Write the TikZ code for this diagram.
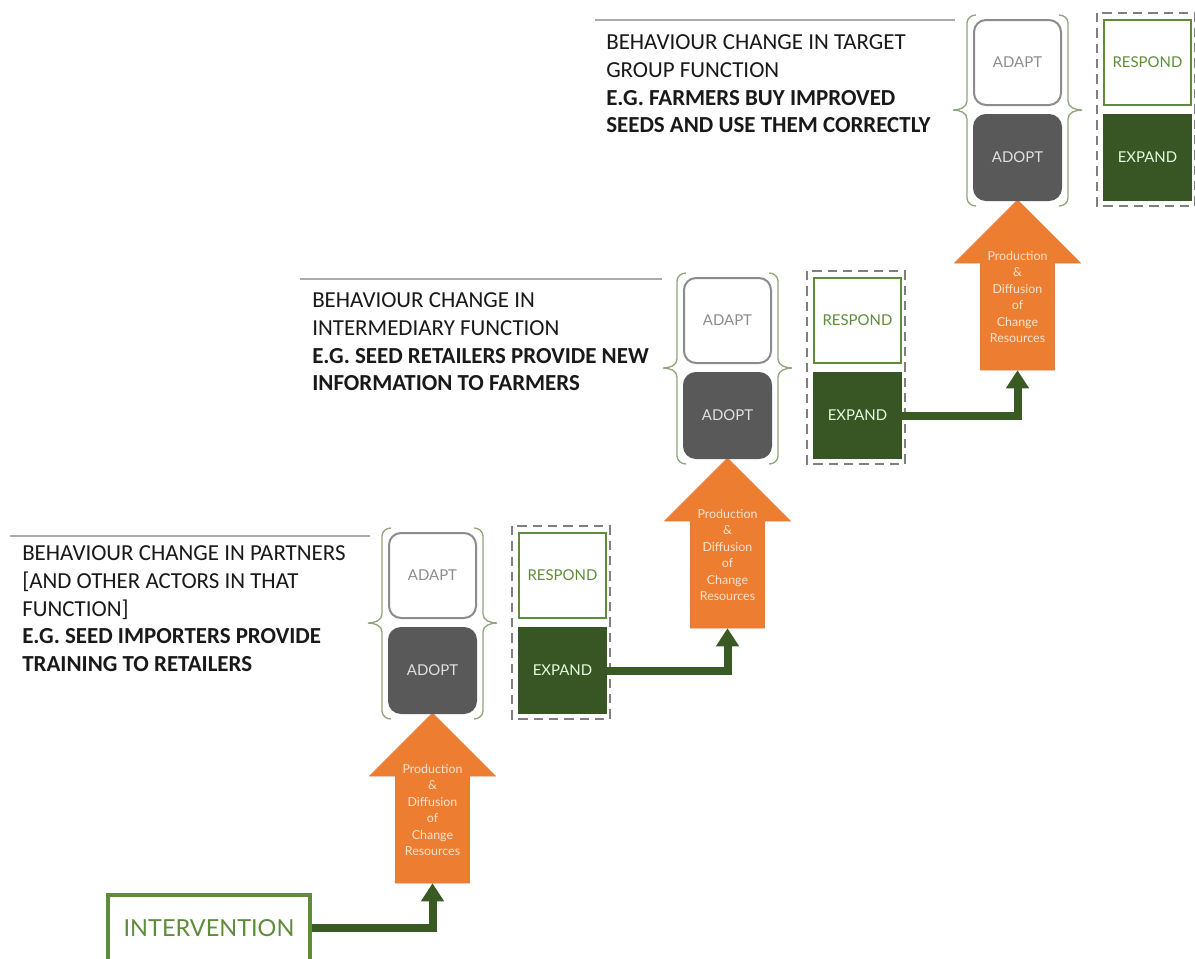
\documentclass[tikz,border=0pt]{standalone}
\usepackage{fontspec}
\setmainfont{Carlito}
\newfontfamily\boxfont{Lato}
\usetikzlibrary{arrows.meta}
\definecolor{orangeA}{HTML}{ED7D31}
\definecolor{arrtext}{HTML}{FBE3CF}
\definecolor{darkgreen}{HTML}{375623}
\definecolor{midgreen}{HTML}{5E8C3A}
\definecolor{conngreen}{HTML}{3A5A24}
\definecolor{adoptgray}{HTML}{595959}
\definecolor{adaptgray}{HTML}{8C8C8C}
\definecolor{dashgray}{HTML}{7F7F7F}
\definecolor{bracecol}{HTML}{8FA67C}
\definecolor{sepgray}{HTML}{ABABAB}
\tikzset{
  boxsize/.style={minimum width=65.25pt, minimum height=63.75pt, inner sep=0pt,
    font=\boxfont\fontsize{11.2}{12}\selectfont},
  adaptbox/.style={boxsize, draw=adaptgray, line width=1.5pt, fill=white,
    rounded corners=9pt, text=adaptgray},
  adoptbox/.style={boxsize, draw=adoptgray, line width=1.5pt, fill=adoptgray,
    rounded corners=9pt, text=white!88!black},
  respondbox/.style={boxsize, draw=midgreen, line width=1.9pt, fill=white, text=midgreen},
  expandbox/.style={boxsize, draw=darkgreen, line width=1pt, fill=darkgreen, text=white!88!green},
  dashbox/.style={draw=dashgray, line width=1.6pt, dash pattern=on 7pt off 4.5pt},
  bracestyle/.style={draw=bracecol, line width=1pt},
  orangearrow/.style={fill=orangeA, draw=orangeA!85!gray, line width=0.4pt},
  arrlabel/.style={align=center, inner sep=0pt, text=arrtext,
    font=\boxfont\fontsize{9.3}{12.4}\selectfont},
  bodybox/.style={inner sep=0pt, minimum width=55.5pt, minimum height=80.25pt},
  conn/.style={draw=conngreen, line width=6pt,
    -{Triangle[width=16.5pt,length=13.5pt]}},
  txt/.style={align=left, inner sep=0pt, anchor=north west,
    font=\fontsize{17.2}{20.8}\selectfont, text=black!90},
  sepline/.style={draw=sepgray, line width=1.1pt},
  intervbox/.style={draw=midgreen, line width=2.5pt, fill=white, text=midgreen,
    minimum width=151.5pt, minimum height=49.5pt, inner sep=0pt,
    font=\boxfont\fontsize{17.6}{19}\selectfont}
}
\begin{document}
\begin{tikzpicture}[x=0.75pt,y=-0.75pt]
\useasboundingbox (0,0) rectangle (1195,958);
\fill[white] (0,0) rectangle (1195,958);

\foreach \i/\L/\T in {1/389/533, 2/684/278, 3/974/20} {
  \pgfmathsetmacro\cx{\L+43.5}
  \pgfmathsetmacro\ty{\T+180}
  \pgfmathsetmacro\sy{\T+243}
  \pgfmathsetmacro\by{\T+350}
  % orange arrow
  \filldraw[orangearrow] (\cx,\ty) -- (\cx+63,\sy) -- (\cx+37,\sy) -- (\cx+37,\by)
     -- (\cx-37,\by) -- (\cx-37,\sy) -- (\cx-63,\sy) -- cycle;
  \node[bodybox] (arr\i) at (\cx,\sy/2+\by/2) {};
  \node[arrlabel] (lab\i) at (\cx,\T+277) {Production\\\&\\Diffusion\\of\\Change\\Resources};
  % boxes
  \node[adaptbox] (adapt\i) at (\cx,\T+42.5) {ADAPT};
  \node[adoptbox] (adopt\i) at (\cx,\T+137.5) {ADOPT};
  \node[respondbox] (respond\i) at (\cx+130,\T+42.5) {RESPOND};
  \node[expandbox] (expand\i) at (\cx+130,\T+137.5) {EXPAND};
  % dashed frame
  \draw[dashbox] (\L+123,\T-7) rectangle (\L+221,\T+186);
  % braces
  \pgfmathsetmacro\yt{\T-5}
  \pgfmathsetmacro\yb{\T+186}
  \pgfmathsetmacro\ym{\T+90}
  \draw[bracestyle] (\L+2,\yt) to[out=180,in=90] (\L-7,\yt+8) -- (\L-7,\ym-9)
     to[out=-90,in=0] (\L-21,\ym) to[out=0,in=90] (\L-7,\ym+9) -- (\L-7,\yb-8)
     to[out=-90,in=180] (\L+2,\yb);
  \draw[bracestyle] (\L+85,\yt) to[out=0,in=90] (\L+94,\yt+8) -- (\L+94,\ym-9)
     to[out=-90,in=180] (\L+108,\ym) to[out=180,in=90] (\L+94,\ym+9) -- (\L+94,\yb-8)
     to[out=-90,in=0] (\L+85,\yb);
}

% intervention
\node[intervbox] (interv) at (209,928) {INTERVENTION};

% connectors
\draw[conn] (interv.east) -| (arr1.south);
\draw[conn] (expand1.east) -| (arr2.south);
\draw[conn] (expand2.east) -| (arr3.south);

% separator lines
\draw[sepline] (10,536) -- (370,536);
\draw[sepline] (300,279) -- (662,279);
\draw[sepline] (595,20) -- (955,20);

% text blocks
\node[txt] (t1) at (22,545.5) {BEHAVIOUR CHANGE IN PARTNERS\\{[}AND OTHER ACTORS IN THAT\\FUNCTION]\\\textbf{E.G. SEED IMPORTERS PROVIDE}\\\textbf{TRAINING TO RETAILERS}};
\node[txt] (t2) at (312,292.5) {BEHAVIOUR CHANGE IN\\INTERMEDIARY FUNCTION\\\textbf{E.G. SEED RETAILERS PROVIDE NEW}\\\textbf{INFORMATION TO FARMERS}};
\node[txt] (t3) at (606,34.5) {BEHAVIOUR CHANGE IN TARGET\\GROUP FUNCTION\\\textbf{E.G. FARMERS BUY IMPROVED}\\\textbf{SEEDS AND USE THEM CORRECTLY}};
\end{tikzpicture}
\end{document}
